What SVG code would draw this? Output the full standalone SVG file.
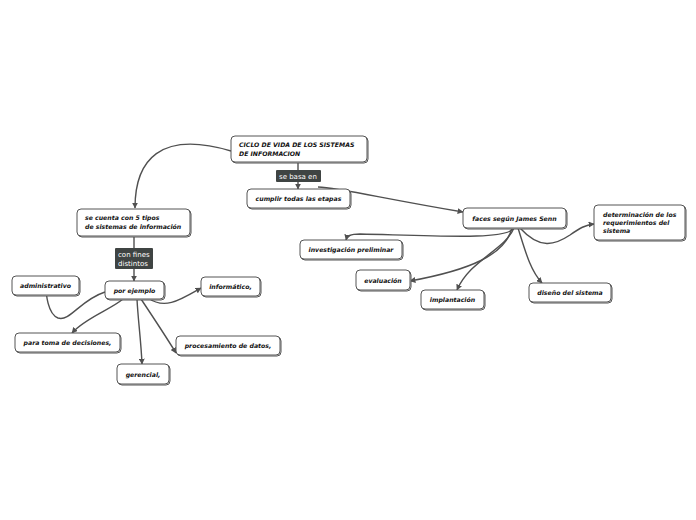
<svg xmlns="http://www.w3.org/2000/svg" width="696" height="520" viewBox="0 0 696 520">
<style>
.n rect{fill:#fff;stroke:#555;stroke-width:1}
.sh{fill:#bbb}
.t{font-family:"DejaVu Sans",Verdana,sans-serif;font-size:6.2px;font-weight:bold;font-style:italic;fill:#111}
.lb rect{fill:#3f4443}
.lb text{font-family:"DejaVu Sans",sans-serif;font-size:7px;fill:#fff}
.c path{fill:none;stroke:#505050;stroke-width:1.4}
</style>
<defs>
<marker id="a" viewBox="0 0 10 10" refX="9" refY="5" markerWidth="6" markerHeight="6" markerUnits="userSpaceOnUse" orient="auto"><path d="M0,0L10,5L0,10z" fill="#505050"/></marker>
</defs>
<rect width="696" height="520" fill="#fff"/>
<g class="c">
<path d="M231,151 C160,130 135,160 135,208" marker-end="url(#a)"/>
<path d="M298,162 L298,189" marker-end="url(#a)"/>
<path d="M318,187 C340,188 380,198 463,212" marker-end="url(#a)"/>
<path d="M134,236 L134,281" marker-end="url(#a)"/>
<path d="M105,292 C80,300 70,322 58,318 C48,314 46,296 45,279" marker-end="url(#a)"/>
<path d="M148,298 C165,310 180,300 201,288" marker-end="url(#a)"/>
<path d="M123,299 C110,310 85,318 72,333" marker-end="url(#a)"/>
<path d="M137,299 C138,320 141,340 142,364" marker-end="url(#a)"/>
<path d="M141,299 C155,320 165,335 176,353" marker-end="url(#a)"/>
<path d="M520,228 C540,250 555,245 570,235 C580,228 585,225 594,224" marker-end="url(#a)"/>
<path d="M513,228 C510,240 440,236 360,234 C350,234 347,236 346,240" marker-end="url(#a)"/>
<path d="M512,228 C505,255 470,270 410,281" marker-end="url(#a)"/>
<path d="M514,228 C505,250 470,260 457,290" marker-end="url(#a)"/>
<path d="M518,228 C525,250 530,270 542,283" marker-end="url(#a)"/>
</g>
<g id="main" class="n"><rect class="sh" x="232" y="137" width="136" height="26" rx="4"/><rect x="231" y="136" width="136" height="26" rx="4"/><text class="t" x="239" y="147">CICLO DE VIDA DE LOS SISTEMAS</text><text class="t" x="239" y="156">DE INFORMACION</text></g>
<g id="lbl1" class="lb"><rect x="276" y="170" width="45" height="12" rx="1"/><text x="279" y="179">se basa en</text></g>
<g id="cumplir" class="n"><rect class="sh" x="248" y="190" width="103" height="19" rx="4"/><rect x="247" y="189" width="103" height="19" rx="4"/><text class="t" x="298.5" y="201" text-anchor="middle">cumplir todas las etapas</text></g>
<g id="secuenta" class="n"><rect class="sh" x="78" y="210" width="113" height="27" rx="4"/><rect x="77" y="209" width="113" height="27" rx="4"/><text class="t" x="85" y="220">se cuenta con 5 tipos</text><text class="t" x="85" y="229">de sistemas de información</text></g>
<g id="lbl2" class="lb"><rect x="115" y="248" width="38" height="21" rx="1"/><text x="118" y="257">con fines</text><text x="118" y="266">distintos</text></g>
<g id="porejemplo" class="n"><rect class="sh" x="106" y="282" width="59" height="18" rx="4"/><rect x="105" y="281" width="59" height="18" rx="4"/><text class="t" x="134.5" y="292.5" text-anchor="middle">por ejemplo</text></g>
<g id="admin" class="n"><rect class="sh" x="13" y="277" width="67" height="19" rx="4"/><rect x="12" y="276" width="67" height="19" rx="4"/><text class="t" x="45.5" y="288" text-anchor="middle">administrativo</text></g>
<g id="informatico" class="n"><rect class="sh" x="202" y="278" width="59" height="19" rx="4"/><rect x="201" y="277" width="59" height="19" rx="4"/><text class="t" x="230.5" y="289" text-anchor="middle">informático,</text></g>
<g id="toma" class="n"><rect class="sh" x="16" y="334" width="105" height="19" rx="4"/><rect x="15" y="333" width="105" height="19" rx="4"/><text class="t" x="67.5" y="345" text-anchor="middle">para toma de decisiones,</text></g>
<g id="gerencial" class="n"><rect class="sh" x="118" y="365" width="52" height="20" rx="4"/><rect x="117" y="364" width="52" height="20" rx="4"/><text class="t" x="143" y="376.5" text-anchor="middle">gerencial,</text></g>
<g id="procesamiento" class="n"><rect class="sh" x="177" y="337" width="104" height="19" rx="4"/><rect x="176" y="336" width="104" height="19" rx="4"/><text class="t" x="228" y="348" text-anchor="middle">procesamiento de datos,</text></g>
<g id="faces" class="n"><rect class="sh" x="464" y="209" width="103" height="20" rx="4"/><rect x="463" y="208" width="103" height="20" rx="4"/><text class="t" x="514.5" y="220.5" text-anchor="middle">faces según James Senn</text></g>
<g id="determinacion" class="n"><rect class="sh" x="595" y="206" width="91" height="35" rx="4"/><rect x="594" y="205" width="91" height="35" rx="4"/><text class="t" x="603" y="217">determinación de los</text><text class="t" x="603" y="225"> requerimientos del</text><text class="t" x="603" y="233">sistema</text></g>
<g id="investigacion" class="n"><rect class="sh" x="301" y="241" width="102" height="19" rx="4"/><rect x="300" y="240" width="102" height="19" rx="4"/><text class="t" x="351" y="252" text-anchor="middle">investigación preliminar</text></g>
<g id="evaluacion" class="n"><rect class="sh" x="357" y="271" width="54" height="20" rx="4"/><rect x="356" y="270" width="54" height="20" rx="4"/><text class="t" x="383" y="282.5" text-anchor="middle">evaluación</text></g>
<g id="implantacion" class="n"><rect class="sh" x="422" y="291" width="63" height="19" rx="4"/><rect x="421" y="290" width="63" height="19" rx="4"/><text class="t" x="452.5" y="302" text-anchor="middle">implantación</text></g>
<g id="diseno" class="n"><rect class="sh" x="530" y="284" width="82" height="19" rx="4"/><rect x="529" y="283" width="82" height="19" rx="4"/><text class="t" x="570" y="295" text-anchor="middle">diseño del sistema</text></g>
</svg>
